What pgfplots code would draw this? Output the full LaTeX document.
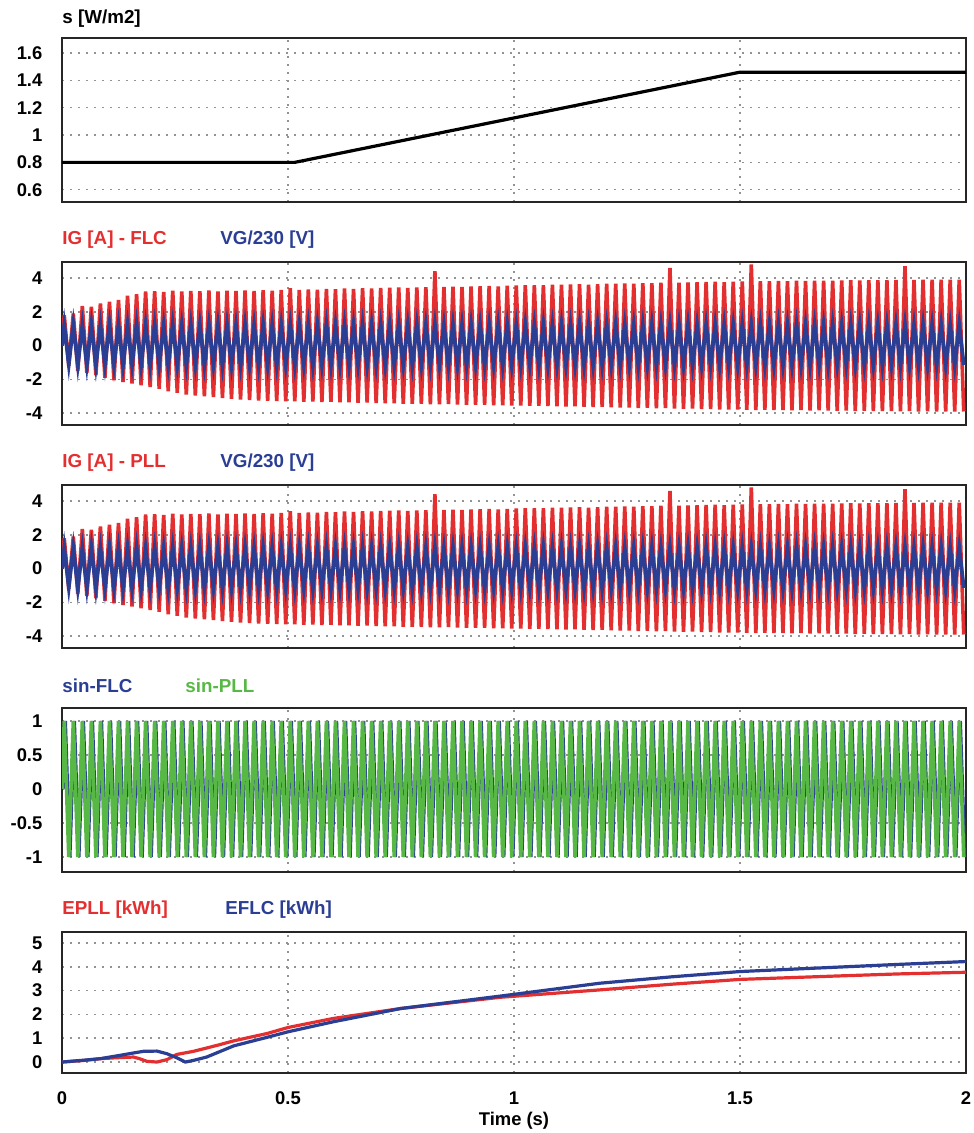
\documentclass[border=0pt]{standalone}
\usepackage{fontspec}
\setmainfont{Liberation Sans}
\usepackage{pgfplots}
\usepackage{pgfplotstable}
\pgfplotsset{compat=1.18}

\definecolor{simred}{RGB}{228,47,48}
\definecolor{simblue}{RGB}{42,62,148}
\definecolor{simgreen}{RGB}{88,184,70}

% peaks of the 50 Hz signals: t, IG, VG/230, sin
\pgfplotstableread{
t ig vg s
0.000 0.00 0.00 0
0.005 1.80 1.22 1
0.015 -1.20 -1.10 -1
0.025 1.90 1.25 1
0.035 -1.50 -1.15 -1
0.045 2.35 1.20 1
0.055 -1.60 -1.14 -1
0.065 2.30 1.24 1
0.075 -1.75 -1.16 -1
0.085 2.50 1.21 1
0.095 -1.90 -1.13 -1
0.105 2.60 1.25 1
0.115 -2.05 -1.15 -1
0.125 2.70 1.22 1
0.135 -2.15 -1.17 -1
0.145 2.95 1.23 1
0.155 -2.25 -1.14 -1
0.165 3.05 1.26 1
0.175 -2.35 -1.16 -1
0.185 3.20 1.22 1
0.195 -2.45 -1.15 -1
0.205 3.22 1.24 1
0.215 -2.55 -1.13 -1
0.225 3.18 1.22 1
0.235 -2.70 -1.17 -1
0.245 3.25 1.25 1
0.255 -2.80 -1.15 -1
0.265 3.20 1.21 1
0.275 -2.90 -1.16 -1
0.285 3.24 1.24 1
0.295 -2.95 -1.14 -1
0.305 3.22 1.23 1
0.315 -3.00 -1.16 -1
0.325 3.26 1.25 1
0.335 -3.05 -1.13 -1
0.345 3.20 1.22 1
0.355 -3.10 -1.17 -1
0.365 3.25 1.24 1
0.375 -3.15 -1.15 -1
0.385 3.23 1.21 1
0.395 -3.20 -1.16 -1
0.405 3.27 1.25 1
0.415 -3.22 -1.14 -1
0.425 3.24 1.22 1
0.435 -3.25 -1.17 -1
0.445 3.28 1.24 1
0.455 -3.27 -1.15 -1
0.465 3.25 1.23 1
0.475 -3.28 -1.16 -1
0.485 3.30 1.22 1
0.495 -3.30 -1.14 -1
0.505 3.40 1.25 1
0.515 -3.30 -1.16 -1
0.525 3.30 1.22 1
0.535 -3.32 -1.15 -1
0.545 3.33 1.24 1
0.555 -3.31 -1.17 -1
0.565 3.31 1.23 1
0.575 -3.34 -1.14 -1
0.585 3.35 1.25 1
0.595 -3.33 -1.16 -1
0.605 3.34 1.22 1
0.615 -3.36 -1.15 -1
0.625 3.38 1.24 1
0.635 -3.35 -1.16 -1
0.645 3.36 1.23 1
0.655 -3.38 -1.14 -1
0.665 3.40 1.25 1
0.675 -3.37 -1.17 -1
0.685 3.38 1.22 1
0.695 -3.40 -1.15 -1
0.705 3.41 1.24 1
0.715 -3.42 -1.16 -1
0.725 3.43 1.23 1
0.735 -3.41 -1.15 -1
0.745 3.44 1.25 1
0.755 -3.44 -1.14 -1
0.765 3.42 1.22 1
0.775 -3.45 -1.17 -1
0.785 3.45 1.24 1
0.795 -3.44 -1.15 -1
0.805 3.46 1.23 1
0.815 -3.47 -1.16 -1
0.825 4.40 1.25 1
0.835 -3.48 -1.14 -1
0.845 3.47 1.22 1
0.855 -3.46 -1.17 -1
0.865 3.49 1.24 1
0.875 -3.49 -1.15 -1
0.885 3.48 1.23 1
0.895 -3.50 -1.16 -1
0.905 3.50 1.25 1
0.915 -3.51 -1.14 -1
0.925 3.52 1.22 1
0.935 -3.50 -1.16 -1
0.945 3.53 1.24 1
0.955 -3.53 -1.15 -1
0.965 3.51 1.23 1
0.975 -3.54 -1.17 -1
0.985 3.54 1.25 1
0.995 -3.55 -1.15 -1
1.005 3.56 1.22 1
1.015 -3.55 -1.16 -1
1.025 3.57 1.24 1
1.035 -3.57 -1.14 -1
1.045 3.58 1.23 1
1.055 -3.56 -1.17 -1
1.065 3.57 1.25 1
1.075 -3.58 -1.15 -1
1.085 3.60 1.22 1
1.095 -3.59 -1.16 -1
1.105 3.60 1.24 1
1.115 -3.61 -1.15 -1
1.125 3.62 1.23 1
1.135 -3.60 -1.14 -1
1.145 3.63 1.25 1
1.155 -3.63 -1.17 -1
1.165 3.61 1.22 1
1.175 -3.64 -1.15 -1
1.185 3.64 1.24 1
1.195 -3.63 -1.16 -1
1.205 3.66 1.23 1
1.215 -3.65 -1.14 -1
1.225 3.67 1.25 1
1.235 -3.67 -1.16 -1
1.245 3.68 1.22 1
1.255 -3.66 -1.15 -1
1.265 3.67 1.24 1
1.275 -3.69 -1.17 -1
1.285 3.70 1.23 1
1.295 -3.68 -1.15 -1
1.305 3.70 1.25 1
1.315 -3.71 -1.16 -1
1.325 3.72 1.22 1
1.335 -3.70 -1.14 -1
1.345 4.60 1.24 1
1.355 -3.73 -1.15 -1
1.365 3.72 1.23 1
1.375 -3.74 -1.17 -1
1.385 3.74 1.25 1
1.395 -3.73 -1.16 -1
1.405 3.75 1.22 1
1.415 -3.76 -1.15 -1
1.425 3.77 1.24 1
1.435 -3.75 -1.14 -1
1.445 3.78 1.23 1
1.455 -3.78 -1.17 -1
1.465 3.76 1.25 1
1.475 -3.79 -1.15 -1
1.485 3.79 1.22 1
1.495 -3.78 -1.16 -1
1.505 3.80 1.24 1
1.515 -3.80 -1.15 -1
1.525 4.80 1.23 1
1.535 -3.81 -1.14 -1
1.545 3.82 1.25 1
1.555 -3.80 -1.17 -1
1.565 3.81 1.22 1
1.575 -3.82 -1.16 -1
1.585 3.83 1.24 1
1.595 -3.81 -1.15 -1
1.605 3.82 1.23 1
1.615 -3.83 -1.16 -1
1.625 3.84 1.25 1
1.635 -3.82 -1.14 -1
1.645 3.83 1.22 1
1.655 -3.84 -1.17 -1
1.665 3.85 1.24 1
1.675 -3.83 -1.15 -1
1.685 3.84 1.23 1
1.695 -3.85 -1.16 -1
1.705 3.85 1.25 1
1.715 -3.86 -1.15 -1
1.725 3.86 1.22 1
1.735 -3.85 -1.14 -1
1.745 3.87 1.24 1
1.755 -3.87 -1.17 -1
1.765 3.86 1.23 1
1.775 -3.86 -1.16 -1
1.785 3.88 1.25 1
1.795 -3.87 -1.15 -1
1.805 3.87 1.22 1
1.815 -3.88 -1.16 -1
1.825 3.88 1.24 1
1.835 -3.87 -1.14 -1
1.845 3.89 1.23 1
1.855 -3.89 -1.17 -1
1.865 4.70 1.25 1
1.875 -3.88 -1.15 -1
1.885 3.89 1.22 1
1.895 -3.90 -1.16 -1
1.905 3.90 1.24 1
1.915 -3.89 -1.15 -1
1.925 3.90 1.23 1
1.935 -3.90 -1.14 -1
1.945 3.91 1.25 1
1.955 -3.91 -1.17 -1
1.965 3.90 1.22 1
1.975 -3.90 -1.16 -1
1.985 3.91 1.24 1
1.995 -3.90 -1.15 -1
}\gridtab

\pgfplotsset{
  panel/.style={
    scale only axis,
    width=452pt,
    anchor=north west,
    xmin=0, xmax=2,
    xtick={0,0.5,1,1.5,2},
    xticklabels={},
    grid=major,
    major grid style={gray!85, line width=0.8pt, dash pattern=on 0.8pt off 3.2pt},
    major tick length=0pt,
    axis line style={black!85, line width=1.1pt},
    /pgf/number format/assume math mode=true,
    tick label style={font=\bfseries\fontsize{9.2}{10}\selectfont},
    yticklabel style={xshift=-6.3pt},
  },
}
\tikzset{ttl/.style={anchor=base west, inner sep=0pt, font=\bfseries\fontsize{9.4}{10}\selectfont}}

\begin{document}
\begin{tikzpicture}
\path[use as bounding box] (-31pt,0pt) rectangle (455.5pt,-566.5pt);

% irradiance
\node[ttl] at (0pt,-11.7pt) {s [W/m2]};
\begin{axis}[panel, at={(0pt,-19pt)}, height=82pt,
  ymin=0.51, ymax=1.71, ytick={0.6,0.8,1,1.2,1.4,1.6}]
\addplot[black, line width=1.6pt] coordinates {
  (0,0.8) (0.515,0.8) (1.5,1.46) (2,1.46)};
\end{axis}

% grid current, FLC
\node[ttl, simred] at (0pt,-122.5pt) {IG [A] - FLC};
\node[ttl, simblue] at (79pt,-122.5pt) {VG/230 [V]};
\begin{axis}[panel, at={(0pt,-131pt)}, height=81.5pt,
  ymin=-4.7, ymax=4.95, ytick={-4,-2,0,2,4}]
\addplot[simred, line width=1.8pt] table[x=t, y=ig] {\gridtab};
\addplot[simblue, line width=1.9pt] table[x=t, y=vg] {\gridtab};
\end{axis}

% grid current, PLL
\node[ttl, simred] at (0pt,-233.5pt) {IG [A] - PLL};
\node[ttl, simblue] at (79pt,-233.5pt) {VG/230 [V]};
\begin{axis}[panel, at={(0pt,-242.5pt)}, height=81.5pt,
  ymin=-4.7, ymax=4.95, ytick={-4,-2,0,2,4}]
\addplot[simred, line width=1.8pt] table[x=t, y=ig] {\gridtab};
\addplot[simblue, line width=1.9pt] table[x=t, y=vg] {\gridtab};
\end{axis}

% synchronisation signals
\node[ttl, simblue] at (0pt,-346pt) {sin-FLC};
\node[ttl, simgreen] at (61.5pt,-346pt) {sin-PLL};
\begin{axis}[panel, at={(0pt,-354pt)}, height=82pt,
  ymin=-1.22, ymax=1.19, ytick={-1,-0.5,0,0.5,1}]
\addplot[simblue, line width=1.6pt] table[x expr=\thisrow{t}+0.0025, y=s] {\gridtab};
\addplot[simgreen, line width=1.8pt] table[x=t, y=s] {\gridtab};
\end{axis}

% energy
\node[ttl, simred] at (0pt,-457pt) {EPLL [kWh]};
\node[ttl, simblue] at (81.5pt,-457pt) {EFLC [kWh]};
\begin{axis}[panel, at={(0pt,-466pt)}, height=70.5pt,
  ymin=-0.46, ymax=5.46, ytick={0,1,2,3,4,5},
  xticklabels={0,0.5,1,1.5,2},
  xticklabel style={yshift=-6pt}]
\addplot[simred, line width=1.6pt] coordinates {
  (0,0) (0.05,0.07) (0.084,0.14) (0.12,0.18) (0.158,0.21) (0.17,0.15)
  (0.188,0.03) (0.21,0) (0.232,0.1) (0.254,0.32) (0.291,0.45)
  (0.343,0.7) (0.38,0.89) (0.454,1.2) (0.5,1.45) (0.6,1.83)
  (0.75,2.25) (0.97,2.72) (1.19,3.03) (1.35,3.27) (1.5,3.47)
  (1.71,3.61) (1.85,3.7) (2,3.77)};
\addplot[simblue, line width=1.6pt] coordinates {
  (0,0) (0.05,0.08) (0.084,0.14) (0.128,0.28) (0.158,0.38) (0.18,0.45)
  (0.21,0.46) (0.232,0.35) (0.254,0.18) (0.273,0) (0.291,0.07)
  (0.32,0.21) (0.38,0.68) (0.45,1.02) (0.5,1.27) (0.6,1.69)
  (0.75,2.25) (0.97,2.77) (1.19,3.31) (1.35,3.58) (1.5,3.8)
  (1.71,3.98) (1.85,4.1) (2,4.22)};
\end{axis}
\node[anchor=base, font=\bfseries\fontsize{9.2}{10}\selectfont] at (226pt,-562.5pt) {Time (s)};
\end{tikzpicture}
\end{document}
